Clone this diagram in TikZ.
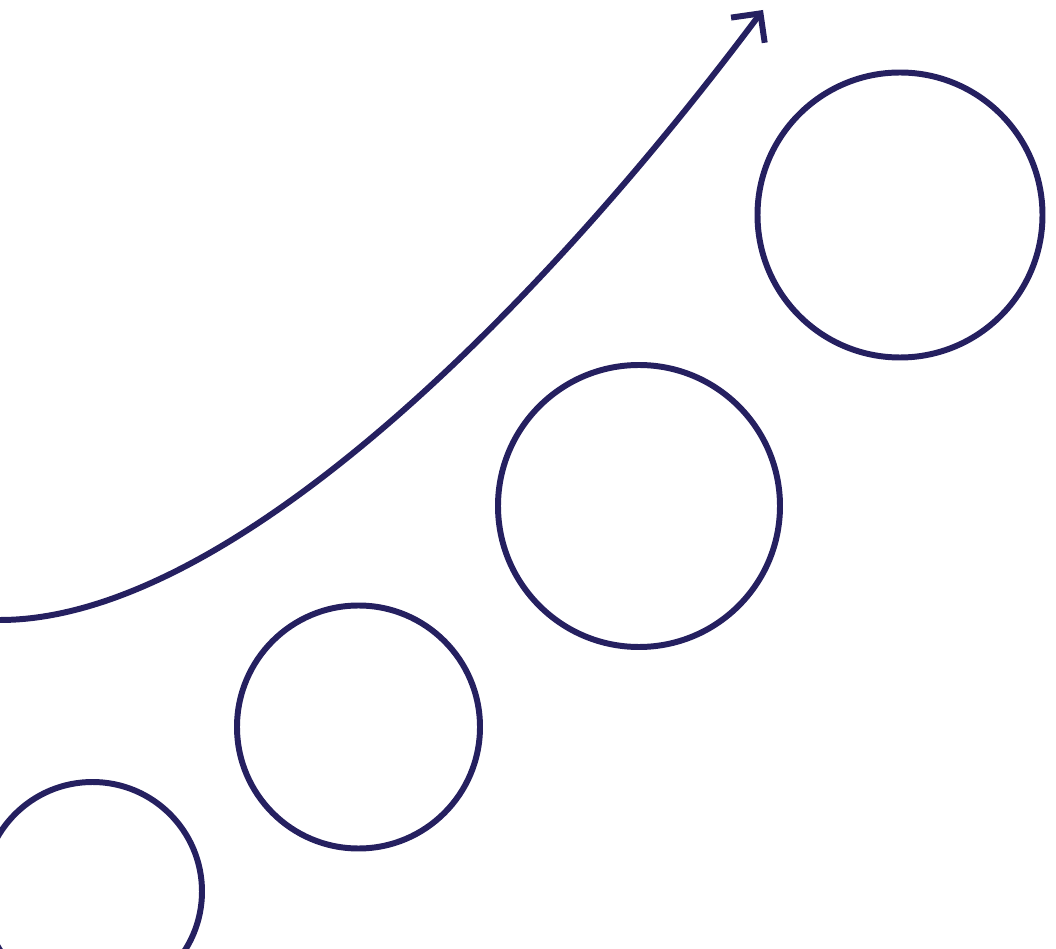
\documentclass[tikz,border=0pt]{standalone}
\usepackage{tikz}
\usetikzlibrary{arrows.meta}
\definecolor{inkblue}{RGB}{37,32,96}
\tikzset{
  ring/.style={draw=inkblue, line width=3.4pt},
  growth/.style={draw=inkblue, line width=3.4pt,
    -{Straight Barb[length=4.2mm, width=8.4mm, line join=miter, line cap=butt]}}
}
\begin{document}
\begin{tikzpicture}[x=0.02cm, y=-0.02cm]
    % Frame
    \clip (0,0) rectangle (1056,949);

    % Growth curve
    \coordinate (start) at (0,620);
    \coordinate (tip) at (763,10);
    \draw[growth] (start) .. controls (220,620) and (522,332) .. (tip);

    % Rings, largest at the top right
    \draw[ring] (900,215) circle (142.5);
    \draw[ring] (639,506) circle (141);
    \draw[ring] (358.5,727) circle (121.5);
    \draw[ring] (92.5,891.5) circle (109.5);
\end{tikzpicture}
\end{document}
